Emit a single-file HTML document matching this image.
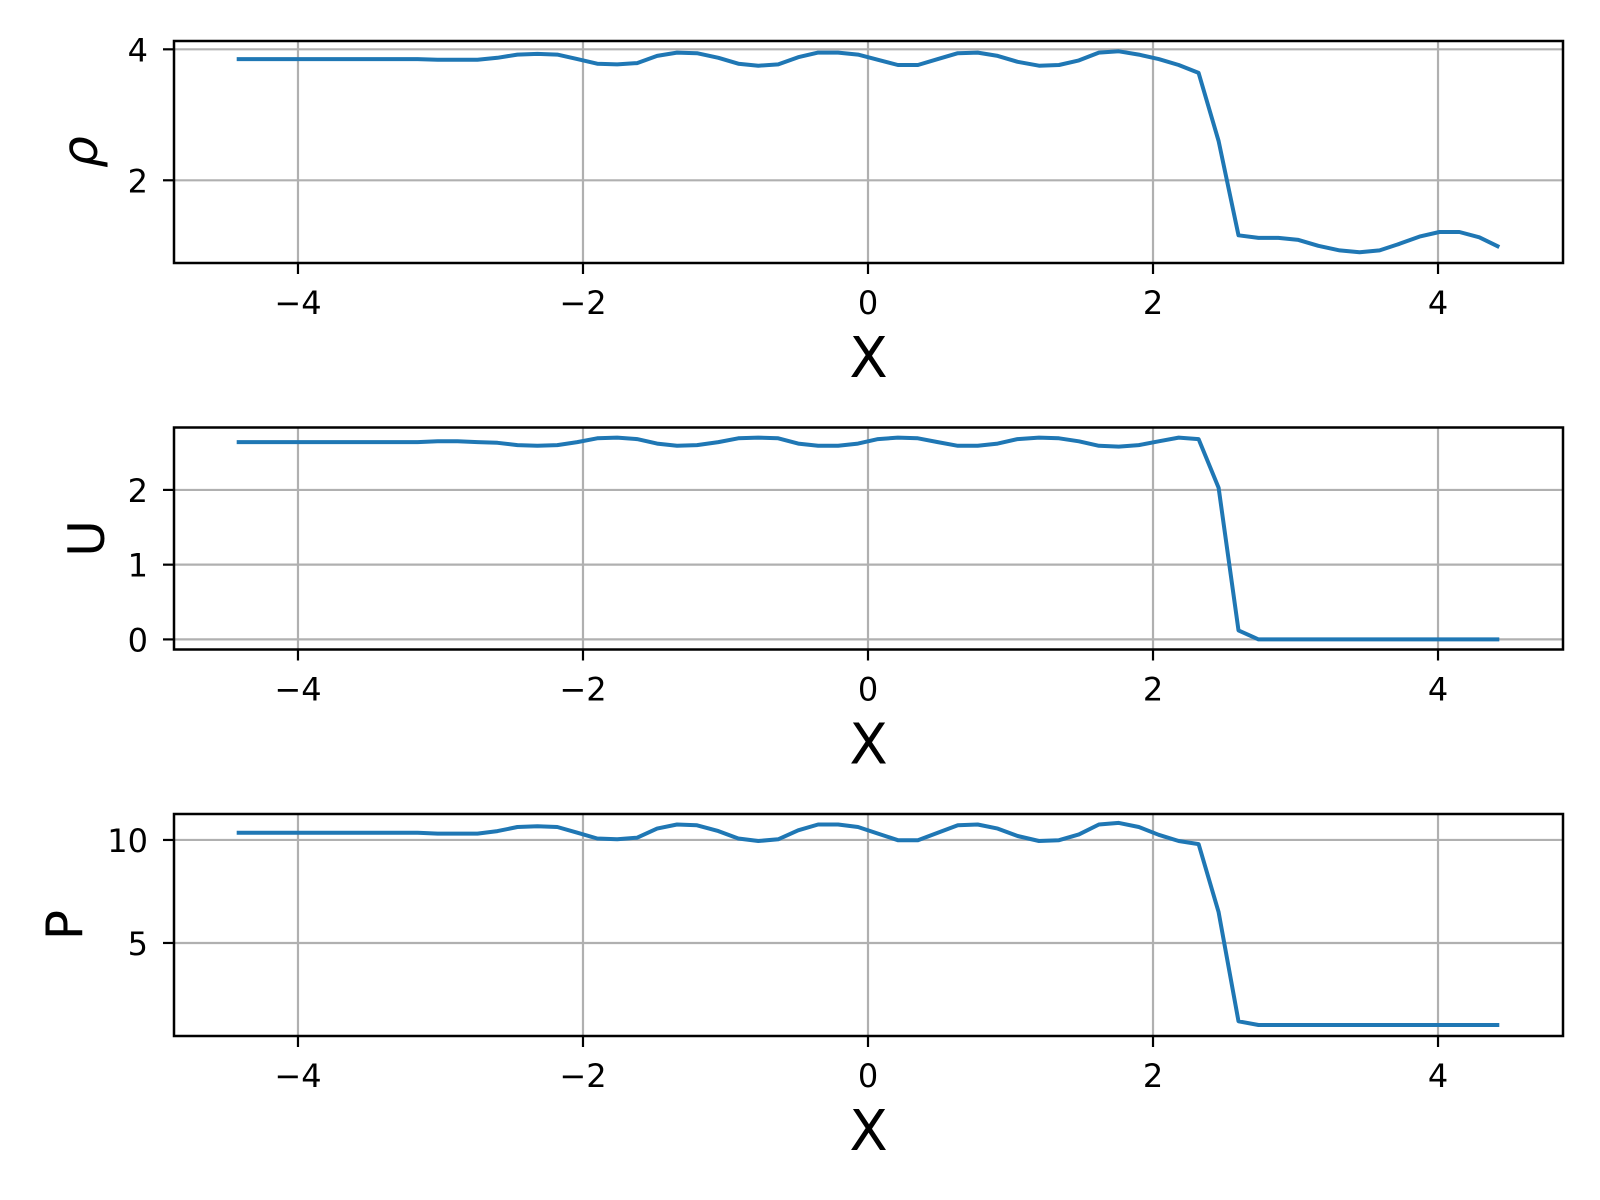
<!DOCTYPE html>
<html><head><meta charset="utf-8"><style>
html,body{margin:0;padding:0;background:#fff;}
svg{display:block;font-family:"DejaVu Sans","Liberation Sans",sans-serif;}
</style></head><body>
<svg id="fig" width="1600" height="1200" viewBox="0 0 1600 1200"></svg>
<script>
const xs = [-4.43,-4.29,-4.15,-4.01,-3.87,-3.73,-3.59,-3.45,-3.31,-3.16,-3.02,-2.88,-2.74,-2.60,-2.46,-2.32,-2.18,-2.04,-1.90,-1.76,-1.62,-1.48,-1.34,-1.20,-1.05,-0.91,-0.77,-0.63,-0.49,-0.35,-0.21,-0.07,0.07,0.21,0.35,0.49,0.63,0.77,0.91,1.05,1.20,1.34,1.48,1.62,1.76,1.90,2.04,2.18,2.32,2.46,2.60,2.74,2.88,3.02,3.16,3.31,3.45,3.59,3.73,3.87,4.01,4.15,4.29,4.43];
const rho = [3.85,3.85,3.85,3.85,3.85,3.85,3.85,3.85,3.85,3.85,3.84,3.84,3.84,3.87,3.92,3.93,3.92,3.85,3.78,3.77,3.79,3.90,3.95,3.94,3.87,3.78,3.75,3.77,3.88,3.95,3.95,3.92,3.84,3.76,3.76,3.85,3.94,3.95,3.90,3.81,3.75,3.76,3.83,3.95,3.97,3.92,3.85,3.76,3.64,2.60,1.16,1.12,1.12,1.09,1.00,0.93,0.90,0.93,1.03,1.14,1.21,1.21,1.13,0.98];
const uvel = [2.64,2.64,2.64,2.64,2.64,2.64,2.64,2.64,2.64,2.64,2.65,2.65,2.64,2.63,2.60,2.59,2.60,2.64,2.69,2.70,2.68,2.62,2.59,2.60,2.64,2.69,2.70,2.69,2.62,2.59,2.59,2.62,2.68,2.70,2.69,2.64,2.59,2.59,2.62,2.68,2.70,2.69,2.65,2.59,2.58,2.60,2.65,2.70,2.68,2.03,0.12,0,0,0,0,0,0,0,0,0,0,0,0,0];
const pres = [10.35,10.35,10.35,10.35,10.35,10.35,10.35,10.35,10.35,10.35,10.31,10.31,10.31,10.43,10.63,10.67,10.63,10.35,10.07,10.03,10.11,10.55,10.75,10.71,10.43,10.07,9.95,10.03,10.47,10.75,10.75,10.63,10.31,9.99,9.99,10.35,10.71,10.75,10.55,10.19,9.95,9.99,10.27,10.75,10.83,10.63,10.25,9.95,9.80,6.50,1.20,1.02,1.02,1.02,1.02,1.02,1.02,1.02,1.02,1.02,1.02,1.02,1.02,1.02];
const xTicks = [-4,-2,0,2,4];
const xTickLabels = ["\u22124","\u22122","0","2","4"];
const rhoTicks = [2,4];
const uTicks = [0,1,2];
const pTicks = [5,10];

const NS = "http://www.w3.org/2000/svg";
const svg = document.getElementById('fig');
function mk(tag, attrs, parent){
  const e = document.createElementNS(NS, tag);
  for (const k in attrs) e.setAttribute(k, attrs[k]);
  (parent||svg).appendChild(e); return e;
}
const L = 174, R = 1563, XMIN = -4.870, XMAX = 4.877;
const sx = v => L + (v - XMIN) / (XMAX - XMIN) * (R - L);

const panels = [
  {name:'rho', top:41, ymin:0.737, ymax:4.127, data:rho, ticks:rhoTicks, label:'ρ', italic:true, lx:97},
  {name:'velocity', top:427.5, ymin:-0.135, ymax:2.835, data:uvel, ticks:uTicks, label:'U', italic:false, lx:104},
  {name:'pressure', top:814, ymin:0.485, ymax:11.26, data:pres, ticks:pTicks, label:'P', italic:false, lx:82}
];
const H = 222;

panels.forEach(p => {
  const B = p.top + H;
  const sy = v => B - (v - p.ymin) / (p.ymax - p.ymin) * H;
  const g = mk('g', {});
  
  
  xTicks.forEach((t, i) => {
    const l = mk('line', {x1:sx(t), x2:sx(t), y1:p.top, y2:B, stroke:'#b0b0b0', 'stroke-width':2.2}, g);
    
    
  });
  p.ticks.forEach(t => {
    const l = mk('line', {x1:L, x2:R, y1:sy(t), y2:sy(t), stroke:'#b0b0b0', 'stroke-width':2.2}, g);
    
    
  });
  const d = xs.map((x, i) => (i ? 'L' : 'M') + sx(x).toFixed(1) + ',' + sy(p.data[i]).toFixed(1)).join(' ');
  const path = mk('path', {d:d, fill:'none', stroke:'#1f77b4', 'stroke-width':4, 'stroke-linejoin':'round'}, g);
  
  
  const fr = mk('rect', {x:L, y:p.top, width:R-L, height:H, fill:'none', stroke:'#000', 'stroke-width':2.5}, g);
  
  
  xTicks.forEach((t, i) => {
    mk('line', {x1:sx(t), x2:sx(t), y1:B, y2:B+11, stroke:'#000', 'stroke-width':2.2}, g);
    const tx = mk('text', {x:sx(t), y:B+51, 'font-size':32, 'text-anchor':'middle', fill:'#000'}, g);
    tx.textContent = xTickLabels[i];
    
    
  });
  p.ticks.forEach(t => {
    mk('line', {x1:L-11, x2:L, y1:sy(t), y2:sy(t), stroke:'#000', 'stroke-width':2.2}, g);
    const ty = mk('text', {x:L-26, y:sy(t)+12, 'font-size':32, 'text-anchor':'end', fill:'#000'}, g);
    ty.textContent = String(t);
    
    
  });
  const xl = mk('text', {x:(L+R)/2, y:B+114, 'font-size':56, 'text-anchor':'middle', fill:'#000'}, g);
  xl.textContent = 'X';
  
  
  const cy = p.top + H/2;
  const yl = mk('text', {x:0, y:0, 'font-size':50, 'text-anchor':'middle', fill:'#000',
    transform:'translate(' + p.lx + ',' + cy + ') rotate(-90)', 'font-style': p.italic ? 'italic' : 'normal'}, g);
  yl.textContent = p.label;
  
  
});
</script>
</body></html>
